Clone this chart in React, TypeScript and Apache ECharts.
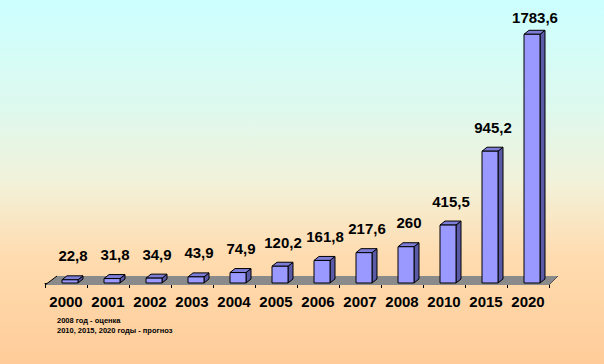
import React, { useEffect, useRef } from "react";
import * as echarts from "echarts";

const years = ["2000", "2001", "2002", "2003", "2004", "2005", "2006", "2007", "2008", "2010", "2015", "2020"];
const values = [22.8, 31.8, 34.9, 43.9, 74.9, 120.2, 161.8, 217.6, 260, 415.5, 945.2, 1783.6];
const valueLabels = ["22,8", "31,8", "34,9", "43,9", "74,9", "120,2", "161,8", "217,6", "260", "415,5", "945,2", "1783,6"];
const notes = ["2008 год - оценка", "2010, 2015, 2020 годы - прогноз"];

const FONT = "'Liberation Sans', Arial, sans-serif";

export default function App() {
  const ref = useRef<HTMLDivElement>(null);
  useEffect(() => {
    document.body.style.margin = "0";
    const chart = echarts.init(ref.current!, null, { renderer: "svg" });
    const option: any = {
      animation: false,
      backgroundColor: {
        type: "linear",
        x: 0, y: 0, x2: 0, y2: 1,
        colorStops: [
          { offset: 0, color: "#ccffff" },
          { offset: 0.3, color: "#def9ee" },
          { offset: 0.5, color: "#f2f2da" },
          { offset: 0.7, color: "#ffdcb0" },
          { offset: 1, color: "#ffcc99" },
        ],
      },
      grid: { left: 45, right: 55, top: 32, bottom: 81 },
      xAxis: {
        type: "category",
        data: years,
        offset: 2,
        axisLine: { show: true, lineStyle: { color: "#000", width: 1 } },
        axisTick: { show: true, interval: 0, length: 5, lineStyle: { color: "#000" } },
        axisLabel: { interval: 0, color: "#000", fontSize: 15, fontWeight: "bold", fontFamily: FONT, margin: 9 },
      },
      yAxis: { type: "value", min: 0, max: 1800, show: false, splitLine: { show: false } },
      graphic: notes.map((t, i) => ({
        type: "text",
        left: 57,
        top: 316 + i * 10,
        style: { text: t, fill: "#000", font: `bold 7.5px ${FONT}` },
      })),
      series: [
        {
          type: "custom",
          z: 1,
          data: [0],
          renderItem: (params: any, api: any) => {
            const a = api.coord([0, 0]);
            const b = api.coord([years.length - 1, 0]);
            const band = api.size([1, 0])[0];
            const left = a[0] - band / 2;
            const right = b[0] + band / 2;
            const front = a[1] + 2;
            const back = a[1] - 7;
            return {
              type: "group",
              children: [
                {
                  type: "polygon",
                  shape: { points: [[left, front], [left + 12, back], [right + 9, back], [right, front]] },
                  style: { fill: "#8a8a8a", stroke: null },
                },
                {
                  type: "polyline",
                  shape: { points: [[left + 12, back], [left, front]] },
                  style: { stroke: "#000", lineWidth: 1, fill: null },
                },
                {
                  type: "polyline",
                  shape: { points: [[right + 9, back], [right, front]] },
                  style: { stroke: "#555", lineWidth: 1, fill: null },
                },
              ],
            };
          },
        },
        {
          type: "custom",
          z: 2,
          data: values.map((v, i) => [i, v]),
          renderItem: (params: any, api: any) => {
            const i = api.value(0);
            const base = api.coord([i, 0]);
            const top = api.coord([i, api.value(1)]);
            const w = 16;
            const dx = 5;
            const dy = -4;
            const cx = base[0] + 4;
            const l = cx - w / 2;
            const r = cx + w / 2;
            const b = base[1];
            const t = top[1];
            const labelY = Math.max(t - 24, 17);
            return {
              type: "group",
              children: [
                {
                  type: "polygon",
                  shape: { points: [[r, t], [r + dx, t + dy], [r + dx, b + dy], [r, b]] },
                  style: { fill: "#5a5aa6", stroke: "#000", lineWidth: 1 },
                },
                {
                  type: "polygon",
                  shape: { points: [[l, t], [l + dx, t + dy], [r + dx, t + dy], [r, t]] },
                  style: { fill: "#7d7dd8", stroke: "#000", lineWidth: 1 },
                },
                {
                  type: "rect",
                  shape: { x: l, y: t, width: w, height: b - t },
                  style: { fill: "#9999ff", stroke: "#000", lineWidth: 1 },
                },
                {
                  type: "text",
                  x: cx + 3,
                  y: labelY,
                  style: {
                    text: valueLabels[params.dataIndex],
                    fill: "#000",
                    font: `bold 15px ${FONT}`,
                    align: "center",
                    verticalAlign: "middle",
                  },
                },
              ],
            };
          },
        },
      ],
    };
    chart.setOption(option);
    return () => chart.dispose();
  }, []);
  return <div ref={ref} style={{ width: 604, height: 364 }} />;
}
